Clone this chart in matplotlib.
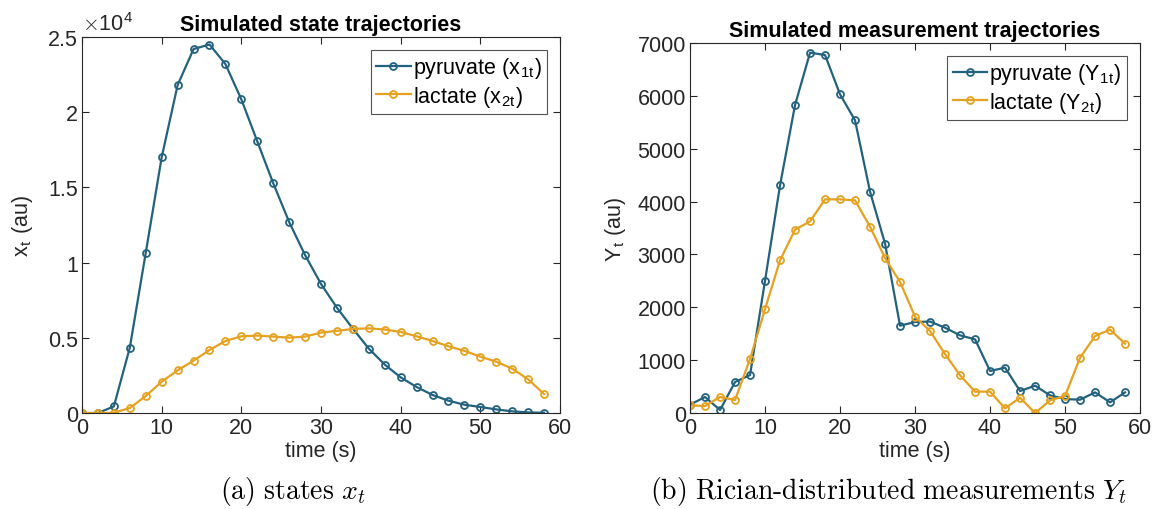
import numpy as np
import matplotlib
matplotlib.use("Agg")
import matplotlib.pyplot as plt

plt.rcParams['font.family'] = ['Liberation Sans', 'DejaVu Sans']
plt.rcParams['mathtext.fontset'] = 'cm'

t = np.arange(0, 60, 2)

# states, in units of 1e4
x_pyr = [0, 0, 0.044, 0.435, 1.065, 1.70, 2.18, 2.42, 2.45, 2.32, 2.085, 1.806, 1.528, 1.27, 1.05,
         0.858, 0.70, 0.561, 0.428, 0.322, 0.237, 0.173, 0.12, 0.082, 0.055, 0.04, 0.024, 0.011, 0.004, 0.002]
x_lac = [0, 0, 0.002, 0.033, 0.113, 0.208, 0.284, 0.348, 0.419, 0.479, 0.51, 0.515, 0.508, 0.501, 0.508,
         0.535, 0.546, 0.559, 0.563, 0.555, 0.539, 0.51, 0.479, 0.444, 0.413, 0.375, 0.341, 0.295, 0.224, 0.126]

# measurements
y_pyr = [158, 303, 57, 587, 719, 2504, 4307, 5827, 6817, 6773, 6029, 5537, 4187, 3204, 1652,
         1722, 1730, 1614, 1469, 1394, 795, 858, 416, 517, 334, 265, 252, 391, 202, 391]
y_lac = [145, 132, 303, 246, 1022, 1968, 2888, 3469, 3626, 4042, 4042, 4023, 3525, 2932, 2478,
         1823, 1551, 1116, 713, 404, 404, 88, 290, 0, 240, 322, 1047, 1457, 1577, 1312]

blue = '#23627f'
orange = '#e5a11f'
grey = '#262626'

fig = plt.figure(figsize=(11.65, 5.1), dpi=100)
ax1 = fig.add_axes([0.0704, 0.1882, 0.4103, 0.7373])
ax2 = fig.add_axes([0.5923, 0.1882, 0.3863, 0.7255])


def style(ax):
    ax.tick_params(direction='in', length=5, width=0.8, top=True, right=True,
                   labelsize=15.5, colors=grey, pad=3)
    for s in ax.spines.values():
        s.set_color(grey)
        s.set_linewidth(0.8)
    ax.set_xlim(0, 60)
    ax.set_xticks(range(0, 61, 10))
    ax.set_xlabel('time (s)', fontsize=15.5, color=grey, labelpad=1)


mk = dict(marker='o', markersize=5, markerfacecolor='none', markeredgewidth=1.3, linewidth=1.6)

ax1.plot(t, x_pyr, color=blue, label=r'pyruvate (x$_{\mathregular{1t}}$)', **mk)
ax1.plot(t, x_lac, color=orange, label=r'lactate (x$_{\mathregular{2t}}$)', **mk)
style(ax1)
ax1.set_ylim(0, 2.5)
ax1.set_yticks([0, 0.5, 1, 1.5, 2, 2.5])
ax1.set_yticklabels(['0', '0.5', '1', '1.5', '2', '2.5'])
ax1.set_ylabel(r'x$_{\mathregular{t}}$ (au)', fontsize=15.5, color=grey, labelpad=9)
ax1.set_title('Simulated state trajectories', fontsize=15.5, fontweight='bold', pad=5)
ax1.text(0.0, 1.005, r'$\times$10$^{\mathregular{4}}$', transform=ax1.transAxes,
         fontsize=15.5, color=grey, ha='left', va='bottom')

ax2.plot(t, y_pyr, color=blue, label=r'pyruvate (Y$_{\mathregular{1t}}$)', **mk)
ax2.plot(t, y_lac, color=orange, label=r'lactate (Y$_{\mathregular{2t}}$)', **mk)
style(ax2)
ax2.set_ylim(0, 7000)
ax2.set_yticks(range(0, 7001, 1000))
ax2.set_ylabel(r'Y$_{\mathregular{t}}$ (au)', fontsize=15.5, color=grey, labelpad=7)
ax2.set_title('Simulated measurement trajectories', fontsize=15.5, fontweight='bold', pad=5)

for ax in (ax1, ax2):
    leg = ax.legend(loc='upper right', fontsize=15.5, frameon=True, fancybox=False,
                    borderaxespad=0.6, handlelength=1.6, handletextpad=0.1,
                    borderpad=0.25, labelspacing=0.15)
    leg.get_frame().set_edgecolor(grey)
    leg.get_frame().set_linewidth(0.8)

fig.text(0.2515, 0.036, r'$\mathrm{(a)\ states}\ x_t$', fontsize=20, ha='center', va='center')
fig.text(0.763, 0.036, r'$\mathrm{(b)\ Rician\text{-}distributed\ measurements}\ Y_t$',
         fontsize=20, ha='center', va='center')

fig.savefig('out.png', dpi=100)
